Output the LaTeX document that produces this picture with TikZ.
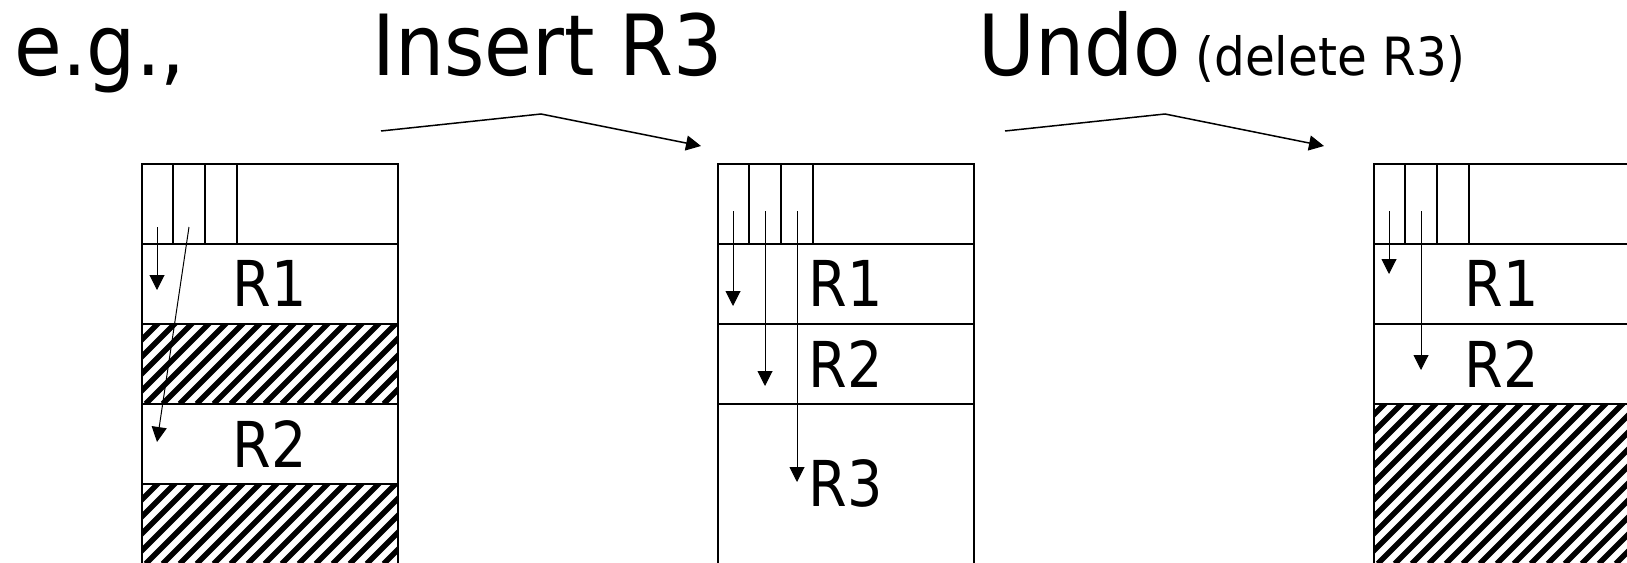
\documentclass[tikz,border=0pt]{standalone}
\usepackage{fontspec}
\setmainfont{DejaVu Sans}[FakeStretch=0.88]
\newfontfamily\headfont{DejaVu Sans}[FakeStretch=0.92]
\usetikzlibrary{arrows.meta,calc}

\tikzset{
	slot/.style={draw, line width=0.3mm, minimum width=51.2mm, minimum height=16mm,
		inner sep=0pt, anchor=north west, font=\fontsize{36}{40}\selectfont},
	bigslot/.style={slot, minimum height=32mm},
	hatched/.style={path picture={
		\foreach \k in {0,...,40}
			\draw[line width=1.1mm] ($(path picture bounding box.south west)+(\k*17-200,0)$) -- ++(300,-300);
	}},
	ptr/.style={line width=0.2mm, -{Triangle[length=3mm,width=3mm]}},
	title/.style={anchor=base west, inner sep=0pt, font=\headfont\fontsize{48}{52}\selectfont},
	note/.style={anchor=base west, inner sep=0pt, font=\headfont\fontsize{30}{34}\selectfont}
}

\begin{document}
\begin{tikzpicture}[x=0.2mm, y=-0.2mm]
	\useasboundingbox (0,0) rectangle (1627,562);

	%%%%% titles %%%%%
	\node[title] (eg) at (14,75) {e.g.,};
	\node[title] (ins) at (372,75) {Insert R3};
	\node[title] (undo) at (978,75) {Undo};
	\node[note] (del) at (1195,75) {(delete R3)};

	%%%%% bent arrows between pages %%%%%
	\coordinate (s1) at (381,131);
	\coordinate (k1) at (541,114);
	\coordinate (e1) at (701,146);
	\draw[ptr, line width=0.3mm] (s1) -- (k1) -- (e1);
	\coordinate (s2) at (1005,131);
	\coordinate (k2) at (1165,114);
	\coordinate (e2) at (1324,146);
	\draw[ptr, line width=0.3mm] (s2) -- (k2) -- (e2);

	%%%%% page before the insert %%%%%
	\node[slot] (ha) at (141,163) {};
	\node[slot] (ra1) at (141,243) {R1};
	\node[slot, hatched] (fa1) at (141,323) {};
	\node[slot] (ra2) at (141,403) {R2};
	\node[slot, hatched] (fa2) at (141,483) {};
	\foreach \d in {32,64,96}
		\draw[line width=0.3mm] ($(ha.north west)+(\d,0)$) -- ($(ha.south west)+(\d,0)$);
	\coordinate (pa1) at (157,227);
	\coordinate (ta1) at (157,290);
	\coordinate (pa2) at (189,227);
	\coordinate (ta2) at (157,442);
	\draw[ptr] (pa1) -- (ta1);
	\draw[ptr] (pa2) -- (ta2);

	%%%%% page after the insert %%%%%
	\node[slot] (hb) at (717,163) {};
	\node[slot] (rb1) at (717,243) {R1};
	\node[slot] (rb2) at (717,323) {R2};
	\node[bigslot] (rb3) at (717,403) {R3};
	\foreach \d in {32,64,96}
		\draw[line width=0.3mm] ($(hb.north west)+(\d,0)$) -- ($(hb.south west)+(\d,0)$);
	\coordinate (pb1) at (733,211);
	\coordinate (tb1) at (733,306);
	\coordinate (pb2) at (765,211);
	\coordinate (tb2) at (765,386);
	\coordinate (pb3) at (797,211);
	\coordinate (tb3) at (797,482);
	\draw[ptr] (pb1) -- (tb1);
	\draw[ptr] (pb2) -- (tb2);
	\draw[ptr] (pb3) -- (tb3);

	%%%%% page after the undo %%%%%
	\node[slot] (hc) at (1373,163) {};
	\node[slot] (rc1) at (1373,243) {R1};
	\node[slot] (rc2) at (1373,323) {R2};
	\node[bigslot, hatched] (fc) at (1373,403) {};
	\foreach \d in {32,64,96}
		\draw[line width=0.3mm] ($(hc.north west)+(\d,0)$) -- ($(hc.south west)+(\d,0)$);
	\coordinate (pc1) at (1389,211);
	\coordinate (tc1) at (1389,274);
	\coordinate (pc2) at (1421,211);
	\coordinate (tc2) at (1421,370);
	\draw[ptr] (pc1) -- (tc1);
	\draw[ptr] (pc2) -- (tc2);
\end{tikzpicture}
\end{document}
